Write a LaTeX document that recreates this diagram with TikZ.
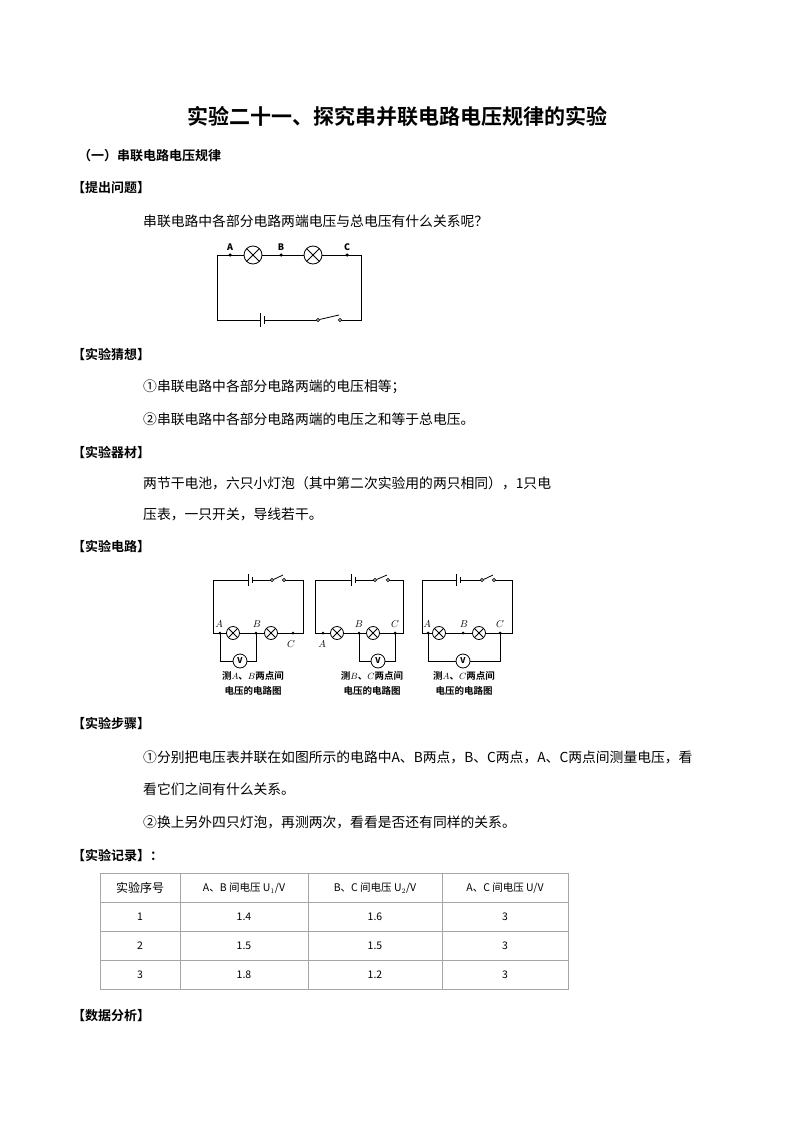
\documentclass[tikz,border=0pt]{standalone}
\usepackage{fontspec}
\setmainfont{Noto Sans CJK SC}
\newfontfamily\cjkb{Noto Sans CJK SC Bold}
\usetikzlibrary{calc}
\tikzset{txt/.style={anchor=west,inner sep=0pt,font=\fontsize{13.8}{15}\selectfont},
 hd/.style={anchor=west,inner sep=0pt,font=\cjkb\fontsize{13}{14}\selectfont},
 lab/.style={inner sep=0pt,font=\fontsize{10}{11}\selectfont},
 dot/.style={circle,fill,inner sep=0pt,minimum size=3.5pt},
 cell/.style={inner sep=0pt,font=\fontsize{10.5}{11}\selectfont},
 wire/.style={line width=0.8pt}}
\newcommand{\lampat}[3]{\draw[wire,fill=white] (#1,#2) circle (#3);
 \draw[wire] ($(#1,#2)+(45:#3)$)--($(#1,#2)+(225:#3)$) ($(#1,#2)+(135:#3)$)--($(#1,#2)+(315:#3)$);}
\newcommand{\batat}[3]{\fill[white] (#1-2,#2-1) rectangle (#1+3,#2+1);
 \draw[wire] (#1-2,#2-#3) -- (#1-2,#2+#3); \draw[wire] (#1+2,#2-#3*0.55) -- (#1+2,#2+#3*0.55);}
\newcommand{\swat}[3]{\fill[white] (#1,#3-1) rectangle (#2,#3+1);
 \draw[wire,fill=white] (#1,#3) circle (1.6); \draw[wire,fill=white] (#2,#3) circle (1.6);
 \draw[wire] (#1+1.5,#3-0.5) -- (#2-1,#3-5);}
\begin{document}
\begin{tikzpicture}[x=1pt,y=-1pt]
\useasboundingbox (0,0) rectangle (794,1123);
\node[inner sep=0pt,font=\cjkb\fontsize{21}{23}\selectfont] (title) at (397,117) {实验二十一、探究串并联电路电压规律的实验};
\node[hd] (h0) at (78,156) {（一）串联电路电压规律};
\node[hd] (h1) at (72,188) {【提出问题】};
\node[txt] (t1) at (143,221) {串联电路中各部分电路两端电压与总电压有什么关系呢？};
% circuit 1
\draw[wire] (217,255) rectangle (361,320);
\lampat{253}{255}{9}\lampat{313}{255}{9}
\batat{262}{320}{7}\swat{318}{340}{320}
\node[dot] (pA) at (230,255) {}; \node[dot] (pB) at (281,255) {}; \node[dot] (pC) at (347,255) {};
\node[inner sep=0pt,font=\bfseries\fontsize{9}{10}\selectfont] at (230,247) {A};
\node[inner sep=0pt,font=\bfseries\fontsize{9}{10}\selectfont] at (281,247) {B};
\node[inner sep=0pt,font=\bfseries\fontsize{9}{10}\selectfont] at (347,247) {C};
\node[hd] (h2) at (72,354) {【实验猜想】};
\node[txt] at (143,387) {①串联电路中各部分电路两端的电压相等；};
\node[txt] at (143,419) {②串联电路中各部分电路两端的电压之和等于总电压。};
\node[hd] (h3) at (72,452) {【实验器材】};
\node[txt] at (143,483) {两节干电池，六只小灯泡（其中第二次实验用的两只相同），1只电};
\node[txt] at (143,514) {压表，一只开关，导线若干。};
\node[hd] (h4) at (72,546) {【实验电路】};
% three circuits
\foreach \L/\R/\A/\la/\B/\lb/\C/\bt/\sa/\sb in {213/303/220/233/256/271/293/250/272/284, 315/403/323/337/359/373/395/353/375/388, 422/512/428/439/463/479/500/458/482/494}{
 \draw[wire] (\L,580) rectangle (\R,633);
 \lampat{\la}{633}{6.5}\lampat{\lb}{633}{6.5}
 \batat{\bt}{580}{6}\swat{\sa}{\sb}{580}
 \node[dot,minimum size=3pt] at (\A,633) {}; \node[dot,minimum size=3pt] at (\B,633) {}; \node[dot,minimum size=3pt] at (\C,633) {};
}
% voltmeters
\draw[wire] (220,633) |- (233,661); \draw[wire] (256,633) |- (247,661);
\draw[wire,fill=white] (240,661) circle (7); \node[inner sep=0pt,font=\bfseries\fontsize{8}{9}\selectfont] at (240,661) {V};
\draw[wire] (359,633) |- (371,661); \draw[wire] (395,633) |- (385,661);
\draw[wire,fill=white] (378,661) circle (7); \node[inner sep=0pt,font=\bfseries\fontsize{8}{9}\selectfont] at (378,661) {V};
\draw[wire] (428,633) |- (456,661); \draw[wire] (500,633) |- (470,661);
\draw[wire,fill=white] (463,661) circle (7); \node[inner sep=0pt,font=\bfseries\fontsize{8}{9}\selectfont] at (463,661) {V};
% labels
\node[lab] at (219,624) {$A$}; \node[lab] at (257,624) {$B$}; \node[lab] at (291,644) {$C$};
\node[lab] at (322,644) {$A$}; \node[lab] at (359,624) {$B$}; \node[lab] at (395,624) {$C$};
\node[lab] at (427,624) {$A$}; \node[lab] at (464,624) {$B$}; \node[lab] at (500,624) {$C$};
\foreach \x/\p in {253/{$A$、$B$}, 372/{$B$、$C$}, 464/{$A$、$C$}}{
 \node[inner sep=0pt,font=\cjkb\fontsize{9.5}{10}\selectfont] at (\x,676) {测\p 两点间};
 \node[inner sep=0pt,font=\cjkb\fontsize{9.5}{10}\selectfont] at (\x,691) {电压的电路图};
}
\node[hd] (h5) at (72,723) {【实验步骤】};
\node[txt] at (143,757) {①分别把电压表并联在如图所示的电路中A、B两点，B、C两点，A、C两点间测量电压，看};
\node[txt] at (143,789) {看它们之间有什么关系。};
\node[txt] at (143,822) {②换上另外四只灯泡，再测两次，看看是否还有同样的关系。};
\node[hd] (h6) at (72,855) {【实验记录】：};
% table
\draw[gray!70,line width=0.8pt] (100,873) rectangle (568,989);
\foreach \y in {902,931,960} \draw[gray!70,line width=0.8pt] (100,\y) -- (568,\y);
\foreach \x in {180,308,442} \draw[gray!70,line width=0.8pt] (\x,873) -- (\x,989);
\node[cell,font=\fontsize{12}{13}\selectfont] at (140,888) {实验序号};
\node[cell] at (244,888) {A、B 间电压 U$_1$/V};
\node[cell] at (375,888) {B、C 间电压 U$_2$/V};
\node[cell] at (505,888) {A、C 间电压 U/V};
\foreach \y/\n/\a/\b in {917/1/1.4/1.6, 946/2/1.5/1.5, 975/3/1.8/1.2}{
 \node[cell] at (140,\y) {\n}; \node[cell] at (244,\y) {\a}; \node[cell] at (375,\y) {\b}; \node[cell] at (505,\y) {3};
}
\node[hd] (h7) at (72,1016) {【数据分析】};
\end{tikzpicture}
\end{document}
